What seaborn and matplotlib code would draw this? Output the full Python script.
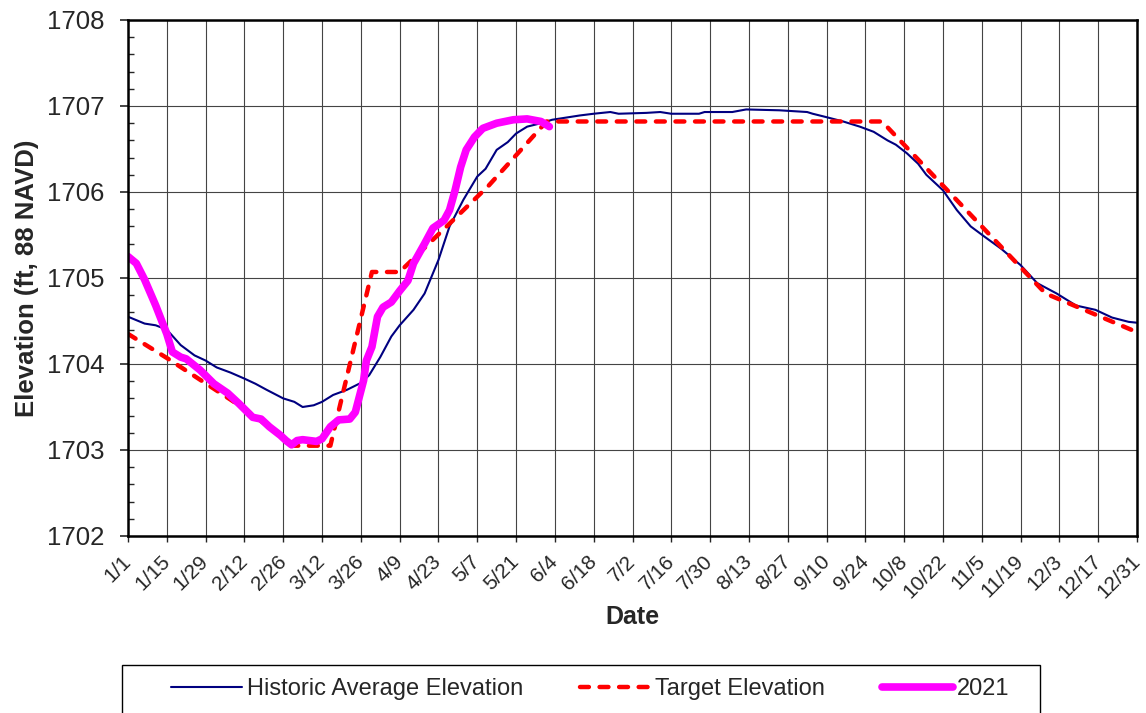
import numpy as np
import pandas as pd
import matplotlib
matplotlib.use("Agg")
import matplotlib.pyplot as plt
import seaborn as sns
from matplotlib.ticker import MultipleLocator
from matplotlib.patches import Rectangle

sns.set_style("white")
plt.rcParams['font.family'] = ['Liberation Sans', 'DejaVu Sans']

# day of year (0 = Jan 1) and elevations
hist_day = [0, 6, 10, 14, 19, 24, 28, 32, 37, 42, 46, 50, 56, 60, 63, 67, 70, 74, 79, 84, 87, 91, 95,
            98, 103, 107, 112, 116, 121, 126, 129, 133, 137, 140, 144, 149, 153, 163, 168, 174, 177,
            187, 192, 196, 206, 208, 218, 223, 235, 245, 247, 252, 258, 264, 269, 274, 277, 281, 285,
            288, 294, 299, 304, 309, 315, 322, 328, 335, 342, 349, 355, 361, 364]
hist_elev = [1704.55, 1704.47, 1704.45, 1704.40, 1704.22, 1704.10, 1704.04, 1703.96, 1703.90, 1703.83,
             1703.77, 1703.70, 1703.60, 1703.56, 1703.50, 1703.52, 1703.56, 1703.64, 1703.70, 1703.78,
             1703.87, 1704.08, 1704.32, 1704.45, 1704.63, 1704.82, 1705.21, 1705.60, 1705.91, 1706.18,
             1706.27, 1706.49, 1706.58, 1706.68, 1706.76, 1706.80, 1706.84, 1706.89, 1706.91, 1706.93,
             1706.91, 1706.92, 1706.93, 1706.91, 1706.91, 1706.93, 1706.93, 1706.96, 1706.95, 1706.93,
             1706.91, 1706.87, 1706.82, 1706.76, 1706.70, 1706.60, 1706.55, 1706.45, 1706.33, 1706.20,
             1706.02, 1705.79, 1705.60, 1705.48, 1705.34, 1705.15, 1704.94, 1704.82, 1704.68, 1704.63,
             1704.54, 1704.49, 1704.48]

target_day = [0, 14, 42, 60, 73, 88, 98, 130, 151, 272, 331, 364]
target_elev = [1704.35, 1704.07, 1703.48, 1703.05, 1703.05, 1705.07, 1705.07, 1706.07, 1706.82,
               1706.82, 1704.82, 1704.37]

y2021_day = [0, 3, 6, 10, 14, 16, 19, 21, 26, 31, 36, 40, 45, 48, 51, 55, 57, 59, 61, 63, 68, 70, 73,
             76, 80, 82, 85, 86, 88, 90, 92, 95, 98, 101, 103, 107, 110, 114, 116, 118, 120, 122, 125,
             128, 133, 139, 144, 149, 152]
y2021_elev = [1705.25, 1705.17, 1704.98, 1704.68, 1704.35, 1704.14, 1704.08, 1704.06, 1703.93, 1703.77,
              1703.66, 1703.54, 1703.38, 1703.36, 1703.27, 1703.17, 1703.11, 1703.06, 1703.11, 1703.12,
              1703.10, 1703.13, 1703.27, 1703.35, 1703.36, 1703.44, 1703.81, 1704.04, 1704.20, 1704.55,
              1704.66, 1704.72, 1704.85, 1704.97, 1705.17, 1705.40, 1705.58, 1705.67, 1705.79, 1706.02,
              1706.29, 1706.49, 1706.64, 1706.74, 1706.80, 1706.84, 1706.85, 1706.82, 1706.76]

tick_days = list(range(0, 365, 14))
tick_labels = ['1/1', '1/15', '1/29', '2/12', '2/26', '3/12', '3/26', '4/9', '4/23', '5/7', '5/21',
               '6/4', '6/18', '7/2', '7/16', '7/30', '8/13', '8/27', '9/10', '9/24', '10/8', '10/22',
               '11/5', '11/19', '12/3', '12/17', '12/31']

df_hist = pd.DataFrame({'day': hist_day, 'elev': hist_elev})
df_tgt = pd.DataFrame({'day': target_day, 'elev': target_elev})
df_21 = pd.DataFrame({'day': y2021_day, 'elev': y2021_elev})

fig = plt.figure(figsize=(11.46, 7.13), dpi=100)
ax = fig.add_axes([128/1146, 1-536/713, (1137-128)/1146, (536-20)/713])

sns.lineplot(data=df_hist, x='day', y='elev', ax=ax, color='#000080', lw=1.5,
             label='Historic Average Elevation')
sns.lineplot(data=df_tgt, x='day', y='elev', ax=ax, color='#FF0000', lw=3.2,
             dashes=False, label='Target Elevation')
ax.lines[-1].set_dashes((2.0, 2.4))
ax.lines[-1].set_dash_capstyle('round')
sns.lineplot(data=df_21, x='day', y='elev', ax=ax, color='#FF00FF', lw=5.5, label='2021')
ax.lines[-1].set_solid_capstyle('round')
ax.lines[-1].set_solid_joinstyle('round')

ax.set_xlim(0, 364)
ax.set_ylim(1702, 1708)
ax.set_xticks(tick_days)
ax.set_xticklabels(tick_labels, rotation=45, ha='right', va='center', rotation_mode='anchor',
                   fontsize=15)
ax.set_yticks(range(1702, 1709))
ax.yaxis.set_minor_locator(MultipleLocator(0.2))
ax.tick_params(axis='y', which='major', direction='out', length=6, width=1.2, labelsize=18.5,
               left=True, pad=11)
ax.tick_params(axis='y', which='minor', direction='in', length=4, width=1, left=True)
ax.tick_params(axis='x', which='major', direction='out', length=4, width=1, bottom=True, pad=12)
ax.grid(True, which='major', color='#444444', lw=0.8)
ax.set_axisbelow(True)
for s in ax.spines.values():
    s.set_linewidth(1.8)
    s.set_color('black')

ax.set_xlabel('Date', fontsize=18, fontweight='bold', labelpad=2)
ax.set_ylabel('Elevation (ft, 88 NAVD)', fontsize=18.5, fontweight='bold', labelpad=6)

ax.get_legend().remove()
h, l = ax.get_legend_handles_labels()
fig.legend(h, l, loc='center left', bbox_to_anchor=(150/1146, 1-689/713), ncol=3, frameon=False,
           fontsize=17, handlelength=3.0, handletextpad=0.2, columnspacing=2.4)
fig.add_artist(Rectangle((122/1146, -0.01), 918/1146, 0.01+(713-665)/713, transform=fig.transFigure,
                         fill=False, edgecolor='black', lw=1))

fig.savefig('out.png', dpi=100)
